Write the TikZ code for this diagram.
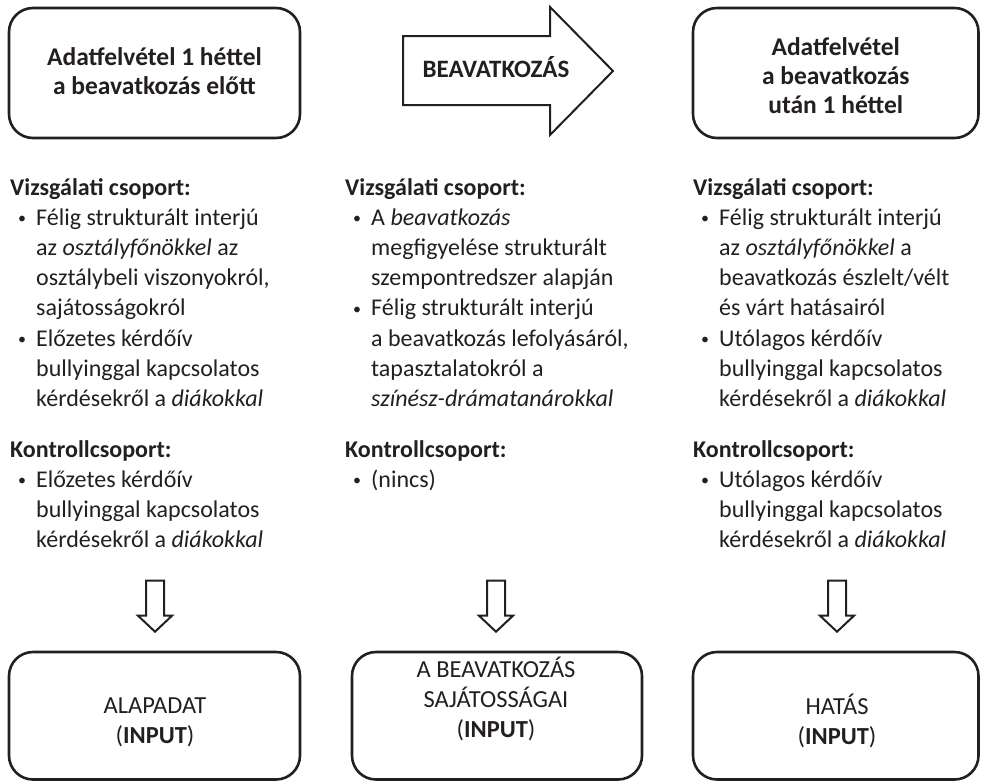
\documentclass[tikz,border=0pt]{standalone}
\usepackage{fontspec}
\setmainfont{Carlito}
\usetikzlibrary{calc}
\definecolor{ink}{HTML}{231F20}
\newcommand{\bul}{\makebox[26pt][l]{\hspace{8pt}\raisebox{1.5pt}{\fontsize{16}{16}\selectfont\textbullet}}}
\newcommand{\ind}{\hspace*{26pt}}
\newcommand{\ColL}[1]{\begin{tabular}[t]{@{}l@{}}#1\end{tabular}}
\newcommand{\ColC}[1]{\begin{tabular}[t]{@{}c@{}}#1\end{tabular}}
\tikzset{
  rbox/.style={draw=ink, line width=2.6pt, rounded corners=24pt, inner sep=0pt},
  blockarrow/.style={draw=ink, line width=2pt, line join=miter, fill=white},
  txt/.style={anchor=base west, inner sep=0pt, text=ink, font=\fontsize{24}{30.2}\selectfont},
  ctxt/.style={anchor=base, inner sep=0pt, text=ink, font=\fontsize{24.5}{30}\selectfont},
  ttxt/.style={anchor=base, inner sep=0pt, text=ink, font=\fontsize{25.5}{29}\selectfont\bfseries},
}
\begin{document}
\begin{tikzpicture}[x=1pt,y=-1pt]
\useasboundingbox (0,0) rectangle (981,782);

% top boxes
\node[rbox, minimum width=291pt, minimum height=130pt] (t1) at (154.5,73) {};
\node[rbox, minimum width=285.5pt, minimum height=130pt] (t3) at (835.75,73) {};
\node[ttxt] (t1txt) at (t1.center |- 0,65) {\ColC{Adatfelvétel 1 héttel\\ a beavatkozás előtt}};
\node[ttxt] (t3txt) at (t3.center |- 0,55) {\ColC{Adatfelvétel\\ a beavatkozás\\ után 1 héttel}};

% big arrow
\draw[blockarrow] (403,36) -- (550,36) -- (550,7) -- (613,71) -- (550,135) -- (550,105) -- (403,105) -- cycle;
\node[anchor=base, inner sep=0pt, text=ink, font=\fontsize{25}{28}\selectfont\bfseries] (beav) at (496,77) {BEAVATKOZÁS};

% left column
\node[txt] (l1) at (10,195) {\ColL{\textbf{Vizsgálati csoport:}\\
\bul Félig strukturált interjú\\
\ind az \textit{osztályfőnökkel} az\\
\ind osztálybeli viszonyokról,\\
\ind sajátosságokról\\
\bul Előzetes kérdőív\\
\ind bullyinggal kapcsolatos\\
\ind kérdésekről a \textit{diákokkal}}};
\node[txt] (l2) at (10,457) {\ColL{\textbf{Kontrollcsoport:}\\
\bul Előzetes kérdőív\\
\ind bullyinggal kapcsolatos\\
\ind kérdésekről a \textit{diákokkal}}};

% middle column
\node[txt] (m1) at (345,195) {\ColL{\textbf{Vizsgálati csoport:}\\
\bul A \textit{beavatkozás}\\
\ind megfigyelése strukturált\\
\ind szempontredszer alapján\\
\bul Félig strukturált interjú\\
\ind a beavatkozás lefolyásáról,\\
\ind tapasztalatokról a\\
\ind \textit{színész-drámatanárokkal}}};
\node[txt] (m2) at (345,457) {\ColL{\textbf{Kontrollcsoport:}\\
\bul (nincs)}};

% right column
\node[txt] (r1) at (693,195) {\ColL{\textbf{Vizsgálati csoport:}\\
\bul Félig strukturált interjú\\
\ind az \textit{osztályfőnökkel} a\\
\ind beavatkozás észlelt/vélt\\
\ind és várt hatásairól\\
\bul Utólagos kérdőív\\
\ind bullyinggal kapcsolatos\\
\ind kérdésekről a \textit{diákokkal}}};
\node[txt] (r2) at (693,457) {\ColL{\textbf{Kontrollcsoport:}\\
\bul Utólagos kérdőív\\
\ind bullyinggal kapcsolatos\\
\ind kérdésekről a \textit{diákokkal}}};

% bottom boxes
\node[rbox, minimum width=291pt, minimum height=127.5pt] (b1) at (154.5,715.75) {};
\node[rbox, minimum width=290pt, minimum height=127.5pt] (b2) at (497,715.75) {};
\node[rbox, minimum width=285.5pt, minimum height=127.5pt] (b3) at (835.75,715.75) {};
\node[ctxt] (b1txt) at (155,713) {\ColC{ALAPADAT\\ (\textbf{INPUT})}};
\node[ctxt] (b2txt) at (496,677) {\ColC{A BEAVATKOZÁS\\ SAJÁTOSSÁGAI\\ (\textbf{INPUT})}};
\node[ctxt] (b3txt) at (837,714) {\ColC{HATÁS\\ (\textbf{INPUT})}};

% down block arrows
\foreach \b/\dx in {b1/0.5, b2/-1, b3/1.25} {
  \draw[blockarrow] ($(\b.north)+(\dx,-19)$) -- ++(-17,-16) -- ++(8,0) -- ++(0,-35)
    -- ++(18,0) -- ++(0,35) -- ++(8,0) -- cycle;
}
\end{tikzpicture}
\end{document}
